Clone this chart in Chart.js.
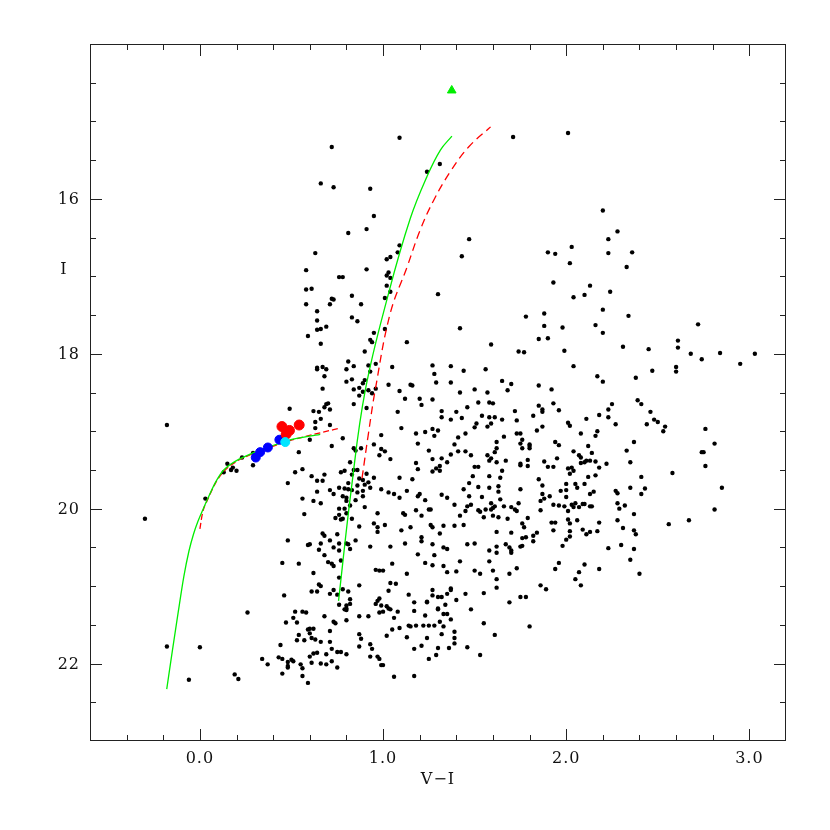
<!DOCTYPE html>
<html>
<head>
<meta charset="utf-8">
<script src="https://cdn.jsdelivr.net/npm/chart.js@4.4.1/dist/chart.umd.min.js"></script>
<style>
  body { margin: 0; background: #fff; }
  #wrap { width: 830px; height: 830px; }
</style>
</head>
<body>
<div id="wrap"><canvas id="chart" width="830" height="830"></canvas></div>
<script>
// field stars, [V-I, I]
const starsLeft = [
  [-0.18,18.92],[-0.30,20.13],[0.03,19.87],[0.13,19.53],[0.15,19.42],[0.17,19.50],[0.18,19.47],[0.20,19.51],[0.23,19.34],[0.29,19.44],
  [0.29,19.28],[0.26,21.34],[-0.18,21.78],[0.00,21.79],[-0.06,22.21],[0.19,22.14],[0.21,22.20],[0.34,21.94],[0.37,22.01],[0.43,21.92]
];
const starsUpper = [
  [1.09,15.21],[0.72,15.33],[0.66,15.80],[0.73,15.85],[0.93,15.87],[0.95,16.22],[0.81,16.44],[0.91,16.39],[0.63,16.70],[0.58,16.92],
  [0.91,16.91],[0.76,17.01],[0.78,17.01],[0.58,17.17],[0.61,17.16],[0.83,17.25],[0.72,17.29],[0.73,17.30],[0.58,17.36],[0.71,17.36],
  [0.88,17.36],[0.64,17.45],[0.83,17.53],[0.86,17.58],[0.64,17.57],[0.64,17.69],[0.66,17.68],[0.69,17.65],[0.59,17.77],[0.66,17.87],
  [1.09,16.60],[1.08,16.69],[1.02,16.78],[1.04,16.75],[1.03,16.95],[1.02,16.99],[1.04,17.02],[1.02,17.12],[1.04,17.20],[1.01,17.28],
  [1.01,17.68],[0.95,17.73],[0.93,17.82],[0.94,17.85],[0.90,17.97],[1.13,17.85],[0.81,18.10],[0.84,18.16],[0.80,18.20],[0.92,18.15],
  [0.96,18.13],[0.93,18.23],[1.05,18.17],[0.64,18.20],[0.64,18.18],[0.67,18.17],[0.69,18.20],[0.68,18.29],[0.67,18.45],[0.80,18.36],
  [0.83,18.33],[0.89,18.38],[0.90,18.34],[0.84,18.46],[0.87,18.44],[0.87,18.54],[0.89,18.49],[0.92,18.47],[0.94,18.51],[0.96,18.45],
  [1.03,18.40],[1.15,18.40],[1.16,18.41],[1.09,18.48],[1.12,18.58],[1.20,18.58]
];
const starsRGB = [
  [0.49,18.71],[0.62,18.74],[0.65,18.75],[0.68,18.69],[0.69,18.65],[0.70,18.64],[0.71,18.72],[0.84,18.65],[0.91,18.70],[1.08,18.75],
  [0.63,18.88],[0.66,18.84],[0.63,18.96],[0.71,18.92],[1.10,18.96],[1.18,19.03],[0.60,19.11],[0.78,19.09],[0.99,19.05],[0.72,19.19],
  [1.19,19.16],[0.54,19.27],[0.84,19.22],[0.85,19.25],[0.88,19.22],[0.95,19.17],[0.99,19.23],[1.01,19.26],[0.98,19.31],[1.04,19.36],
  [0.82,19.40],[1.18,19.41],[0.56,19.49],[0.52,19.53],[0.77,19.53],[0.79,19.51],[0.84,19.50],[0.86,19.50],[1.19,19.49],[0.68,19.56],
  [0.61,19.58],[0.83,19.56],[0.91,19.55],[0.48,19.67],[0.64,19.64],[0.67,19.64],[0.81,19.67],[0.87,19.61],[0.89,19.63],[0.92,19.66],
  [0.95,19.60],[1.09,19.60],[0.76,19.73],[0.79,19.74],[0.86,19.70],[0.90,19.69],[0.93,19.73],[0.71,19.76],[0.64,19.78],[0.73,19.81],
  [0.81,19.75],[0.83,19.76],[0.86,19.79],[0.89,19.77],[0.99,19.75],[1.03,19.79],[1.06,19.81],[1.13,19.77],[1.20,19.81],[0.78,19.84],
  [0.80,19.86],[0.85,19.89],[0.89,19.84],[1.09,19.86],[0.56,19.87],[0.62,19.90],[0.66,19.93],[0.80,19.90],[0.82,19.96],[0.90,19.98],
  [0.76,20.00],[0.79,20.00],[1.18,20.02],[0.57,20.07],[0.76,20.08],[0.80,20.06],[0.97,20.06],[1.11,20.06],[1.12,20.08],[0.74,20.12],
  [0.77,20.14],[0.78,20.13],[0.83,20.13],[0.95,20.19],[1.01,20.21],[0.87,20.23],[0.97,20.24],[0.97,20.30],[1.10,20.28],[1.15,20.24],
  [0.67,20.32],[0.68,20.35],[0.71,20.41],[0.75,20.33],[0.85,20.41],[0.48,20.41],[0.59,20.47],[0.60,20.46],[0.66,20.45],[0.76,20.45],
  [0.80,20.45],[0.81,20.46],[0.82,20.52],[0.93,20.49],[1.04,20.49],[1.12,20.45],[1.19,20.59],[0.65,20.53],[0.73,20.50],[0.76,20.54],
  [0.68,20.60],[0.70,20.69],[0.72,20.71],[0.73,20.74],[0.77,20.67],[0.45,20.70],[0.54,20.71],[1.05,20.71],[0.62,20.83],[0.96,20.79],
  [0.98,20.80],[1.00,20.80],[1.13,20.84],[0.76,20.89],[0.65,20.98],[0.66,21.00],[0.87,20.99],[1.04,20.96],[1.07,20.97],[0.46,21.12],
  [0.61,21.07],[0.64,21.07],[0.73,21.05],[0.78,21.04],[0.71,21.10],[0.75,21.11],[0.81,21.07],[1.03,21.06],[1.14,21.11],[0.76,21.24],
  [0.82,21.17],[0.80,21.25],[0.79,21.30],[0.80,21.29],[0.80,21.31],[0.82,21.23],[0.98,21.16],[0.97,21.19],[0.96,21.23],[0.99,21.25],
  [1.02,21.26],[1.03,21.29],[1.04,21.30],[0.98,21.34],[1.00,21.33],[1.08,21.33],[1.17,21.21],[1.17,21.32],[0.56,21.33],[0.58,21.34],
  [0.52,21.33],[0.51,21.41],[0.68,21.39],[0.73,21.46],[0.74,21.48],[0.80,21.44],[0.87,21.39],[0.92,21.39],[1.06,21.41],[0.47,21.47],
  [0.53,21.47],[0.59,21.56],[0.60,21.55],[0.62,21.55],[0.71,21.58],[1.05,21.56],[1.09,21.54],[1.14,21.51],[1.15,21.52],[1.18,21.51],
  [0.54,21.63],[0.60,21.61],[0.61,21.67],[0.63,21.69],[0.87,21.62],[0.88,21.68],[1.02,21.64],[1.13,21.66],[0.53,21.70],[0.57,21.70],
  [0.66,21.72],[0.71,21.72],[0.44,21.76],[0.62,21.87],[0.64,21.86],[0.69,21.88],[0.72,21.81],[0.75,21.85],[0.77,21.85],[0.80,21.88],
  [0.87,21.78],[0.93,21.75],[0.94,21.81],[1.17,21.81],[0.60,21.91],[0.93,21.91],[0.97,21.91],[0.98,21.94],[0.45,21.94],[0.48,21.98],
  [0.50,21.95],[0.51,21.97],[0.55,22.01],[0.56,22.06],[0.48,22.03],[0.48,22.05],[0.61,21.99],[0.66,22.00],[0.69,22.01],[0.72,21.97],
  [0.75,22.05],[0.99,22.02],[1.00,22.02],[0.45,22.13],[0.56,22.16],[0.59,22.25],[1.06,22.17],[1.17,22.16]
];
const starsMid = [
  [1.71,15.20],[1.24,15.65],[1.31,15.55],[1.47,16.52],[1.43,16.74],[1.30,17.23],[1.78,17.52],[1.42,17.67],[1.59,17.88],[1.74,17.97],
  [1.77,17.98],[1.27,18.15],[1.28,18.26],[1.37,18.16],[1.44,18.22],[1.56,18.20],[1.29,18.37],[1.37,18.37],[1.42,18.50],[1.50,18.46],
  [1.57,18.50],[1.65,18.35],[1.70,18.39],[1.68,18.47],
  [1.21,18.66],[1.27,18.59],[1.52,18.63],[1.58,18.63],[1.60,18.64],[1.46,18.69],[1.72,18.74],[1.32,18.74],[1.40,18.75],[1.32,18.82],
  [1.37,18.85],[1.43,18.83],[1.54,18.80],[1.58,18.82],[1.61,18.82],[1.65,18.85],[1.73,18.86],[1.51,18.90],[1.59,18.90],[1.57,18.94],
  [1.50,18.95],[1.23,19.01],[1.27,18.97],[1.30,18.99],[1.28,19.06],[1.45,19.03],[1.41,19.08],[1.66,19.07],[1.73,19.03],[1.75,19.03],
  [1.76,19.11],[1.62,19.14],[1.39,19.17],[1.62,19.22],[1.75,19.16],[1.76,19.22],[1.80,19.19],[1.80,19.17],[1.80,19.22],
  [1.25,19.25],[1.41,19.26],[1.45,19.26],[1.61,19.27],[1.37,19.30],[1.48,19.31],[1.57,19.31],[1.59,19.35],[1.58,19.38],[1.62,19.40],
  [1.67,19.38],[1.32,19.35],[1.35,19.40],[1.27,19.36],[1.31,19.45],[1.29,19.48],[1.27,19.52],[1.31,19.51],[1.50,19.46],[1.52,19.46],
  [1.65,19.51],[1.75,19.42],[1.75,19.44],[1.79,19.37],[1.79,19.45],[1.49,19.58],[1.58,19.58],[1.64,19.60],[1.16,19.62],[1.47,19.67],
  [1.44,19.75],[1.52,19.72],[1.58,19.73],[1.63,19.71],[1.63,19.78],[1.75,19.75],[1.19,19.84],[1.23,19.89],[1.32,19.82],[1.35,19.86],
  [1.47,19.84],[1.54,19.85],[1.64,19.88],[1.39,19.95],[1.46,19.97],[1.48,19.95],[1.59,19.93],[1.60,19.99],[1.59,20.01],[1.61,19.97],
  [1.66,19.97],[1.70,19.98],[1.72,20.01],[1.73,20.03],[1.74,19.93],[1.52,20.02],[1.53,20.04],[1.56,20.01],[1.45,20.03],[1.25,20.01],
  [1.26,20.01],[1.21,20.09],[1.42,20.09],[1.55,20.11],[1.60,20.09],[1.63,20.11],[1.68,20.13],[1.79,20.12],[1.26,20.21],[1.27,20.24],
  [1.33,20.22],[1.39,20.22],[1.44,20.21],[1.76,20.19],[1.77,20.24],[1.62,20.30],[1.70,20.31],[1.31,20.32],[1.21,20.37],[1.21,20.42],
  [1.76,20.38],[1.78,20.37],[1.82,20.35],[1.82,20.42],[1.84,20.31],[1.27,20.46],[1.33,20.50],[1.35,20.52],[1.46,20.46],[1.50,20.45],
  [1.62,20.49],[1.62,20.57],[1.58,20.54],[1.67,20.46],[1.69,20.50],[1.70,20.57],[1.70,20.54],[1.75,20.49],[1.76,20.48],[1.28,20.60],
  [1.23,20.70],[1.27,20.73],[1.33,20.74],[1.42,20.68],[1.35,20.82],[1.40,20.81],[1.50,20.80],[1.53,20.84],[1.58,20.68],[1.60,20.80],
  [1.69,20.84],[1.73,20.77],[1.62,20.91],[1.62,21.02],[1.27,21.05],[1.37,21.03],[1.37,21.05],[1.24,21.21],[1.24,21.20],[1.27,21.12],
  [1.30,21.14],[1.32,21.14],[1.35,21.10],[1.40,21.18],[1.45,21.10],[1.55,21.09],[1.69,21.21],[1.75,21.14],[1.78,21.14],[1.30,21.29],
  [1.30,21.30],[1.34,21.24],[1.48,21.30],[1.23,21.38],[1.33,21.36],[1.35,21.36],[1.37,21.43],[1.31,21.46],[1.33,21.52],[1.22,21.51],
  [1.25,21.51],[1.28,21.51],[1.39,21.59],[1.55,21.48],[1.80,21.52],[1.24,21.67],[1.32,21.62],[1.39,21.67],[1.39,21.74],[1.61,21.63],
  [1.21,21.77],[1.30,21.80],[1.36,21.80],[1.46,21.79],[1.25,21.94],[1.29,21.89],[1.53,21.89]
];
const starsRed = [
  [2.01,15.15],[2.20,16.15],[2.28,16.42],[2.23,16.52],[2.03,16.62],[1.90,16.69],[1.94,16.71],[2.23,16.70],[2.36,16.69],[2.02,16.83],
  [2.33,16.88],[1.93,17.08],[2.13,17.12],[2.04,17.27],[2.10,17.24],[2.24,17.20],[2.20,17.43],[1.88,17.48],[2.34,17.51],[1.88,17.64],
  [1.98,17.66],[2.16,17.63],[2.20,17.73],[1.85,17.81],[1.90,17.80],[2.31,17.91],[2.45,17.94],[1.99,17.96],[2.04,18.16],[2.17,18.29],
  [2.20,18.36],[2.38,18.31],[2.47,18.22],[1.85,18.41],[1.92,18.46],
  [1.85,18.67],[1.87,18.72],[1.87,18.75],[1.82,18.80],[1.93,18.64],[1.96,18.73],[2.01,18.89],[2.02,18.93],[2.11,18.84],[2.18,18.79],
  [2.23,18.72],[2.25,18.65],[2.23,18.82],[2.27,18.91],[2.39,18.60],[2.41,18.65],[2.46,18.75],[2.48,18.85],[2.50,18.88],[2.44,18.91],
  [1.84,18.99],[1.87,18.94],[2.08,19.03],[2.17,19.00],[2.16,19.06],[1.94,19.14],[1.96,19.18],[2.12,19.19],[2.04,19.26],[2.14,19.28],
  [2.07,19.31],[2.08,19.34],[2.37,19.14],[2.33,19.25],[1.95,19.35],[1.88,19.39],[1.90,19.46],[1.93,19.46],[2.08,19.41],[2.10,19.40],
  [2.11,19.38],[2.13,19.38],[2.16,19.39],[2.22,19.42],[2.35,19.40],[2.01,19.48],[2.03,19.47],[2.04,19.51],[2.18,19.47],[2.02,19.55],
  [2.16,19.57],[2.12,19.59],[2.41,19.59],[1.85,19.62],[1.87,19.70],[2.00,19.68],[2.05,19.68],[2.10,19.68],[2.06,19.73],[1.97,19.77],
  [2.00,19.76],[2.35,19.73],[2.43,19.74],[2.27,19.77],[2.28,19.80],[2.41,19.81],[2.13,19.81],[2.15,19.78],[1.87,19.81],[1.91,19.84],
  [2.00,19.85],[1.88,19.87],[1.86,19.90],[1.93,19.95],[1.96,19.96],[1.99,19.97],[2.03,19.95],[2.04,19.98],[2.05,19.93],[2.07,19.98],
  [2.09,19.94],[2.10,19.94],[2.13,19.97],[2.14,19.97],[2.28,19.93],[2.29,20.00],[2.32,19.96],[2.01,20.03],[1.86,20.02],[2.37,20.07],
  [2.01,20.14],[2.06,20.15],[2.28,20.15],[1.92,20.18],[1.94,20.18],[2.02,20.19],[2.18,20.18],[1.93,20.28],[2.02,20.29],[2.09,20.27],
  [2.13,20.30],[2.11,20.33],[2.17,20.29],[2.31,20.25],[2.37,20.28],[2.38,20.33],[2.02,20.36],[2.00,20.40],[1.98,20.48],[2.23,20.51],
  [2.30,20.47],[2.37,20.52],[2.35,20.66],[1.96,20.70],[1.94,20.78],[2.10,20.72],[2.07,20.82],[2.05,20.91],[2.08,20.99],[2.18,20.78],
  [2.40,20.84],[1.86,20.99],[1.89,21.04]
];
const starsFar = [
  [2.72,17.62],[2.61,17.83],[2.61,17.92],[2.68,18.00],[2.84,17.99],[3.03,18.00],[2.60,18.17],[2.60,18.23],[2.74,18.07],[2.95,18.13],
  [2.54,18.94],[2.53,19.00],[2.76,18.97],[2.81,19.16],[2.74,19.27],[2.75,19.27],[2.76,19.45],[2.58,19.54],[2.85,19.73],[2.81,20.01],
  [2.67,20.15],[2.56,20.20]
];

// model curves
const zahbVI   = [-0.181, -0.150, -0.118, -0.088, -0.060, -0.035, -0.010, 0.015, 0.045, 0.085, 0.130, 0.200, 0.290, 0.380, 0.480, 0.657];
const zahbI    = [22.33, 21.83, 21.33, 20.88, 20.55, 20.33, 20.16, 20.02, 19.86, 19.66, 19.50, 19.38, 19.28, 19.20, 19.12, 19.04];
const zahb2VI  = [0.000, 0.015, 0.045, 0.085, 0.130, 0.200, 0.290, 0.380, 0.480, 0.657, 0.766];
const zahb2I   = [20.26, 20.05, 19.87, 19.67, 19.52, 19.39, 19.29, 19.21, 19.13, 19.02, 18.96];
const isoVI    = [0.757, 0.826, 0.903, 1.030, 1.149, 1.240, 1.313, 1.376];
const isoI     = [21.19, 19.76, 18.47, 17.22, 16.25, 15.71, 15.37, 15.19];
const iso2VI   = [0.885, 0.919, 0.957, 1.039, 1.131, 1.203, 1.276, 1.367, 1.467, 1.587];
const iso2I    = [19.61, 19.05, 18.47, 17.48, 16.88, 16.40, 16.02, 15.65, 15.33, 15.07];

// highlighted stars
const redStars  = [[0.448,18.94],[0.489,18.99],[0.471,19.04],[0.542,18.92]];
const blueStars = [[0.305,19.34],[0.329,19.27],[0.371,19.21],[0.434,19.11]];
const cyanStars = [[0.466,19.14]];
const tipStar   = [[1.375,14.60]];

// axis ticks
const xTicks = [0, 1, 2, 3];
const xTickLabels = ['0.0', '1.0', '2.0', '3.0'];
const yTicks = [16, 18, 20, 22];
const yTickLabels = ['16', '18', '20', '22'];

const toXY = arr => arr.map(p => ({ x: p[0], y: p[1] }));
const zip = (xs, ys) => xs.map((v, i) => ({ x: v, y: ys[i] }));

const font = '16px "DejaVu Serif", serif';

const frame = {
  id: 'frame',
  afterDraw(chart) {
    const { ctx, chartArea: a, scales: { x, y } } = chart;
    ctx.save();
    ctx.strokeStyle = '#222';
    ctx.lineWidth = 1;
    ctx.strokeRect(a.left + 0.5, a.top + 0.5, a.right - a.left - 1, a.bottom - a.top - 1);

    ctx.beginPath();
    for (let i = -2; i <= 15; i++) {
      const v = i * 0.2;
      const px = Math.round(x.getPixelForValue(v)) + 0.5;
      const len = i % 5 === 0 ? 12 : 6;
      ctx.moveTo(px, a.bottom); ctx.lineTo(px, a.bottom - len);
      ctx.moveTo(px, a.top); ctx.lineTo(px, a.top + len);
    }
    for (let i = 29; i <= 45; i++) {
      const v = i * 0.5;
      const py = Math.round(y.getPixelForValue(v)) + 0.5;
      const len = i % 4 === 0 ? 12 : 6;
      ctx.moveTo(a.left, py); ctx.lineTo(a.left + len, py);
      ctx.moveTo(a.right, py); ctx.lineTo(a.right - len, py);
    }
    ctx.stroke();

    ctx.fillStyle = '#111';
    ctx.font = font;
    ctx.letterSpacing = '1px';
    ctx.textAlign = 'center';
    ctx.textBaseline = 'middle';
    xTicks.forEach((v, i) => ctx.fillText(xTickLabels[i], x.getPixelForValue(v), a.bottom + 18));
    ctx.fillText('V\u2212I', (a.left + a.right) / 2, a.bottom + 39);
    ctx.textAlign = 'right';
    yTicks.forEach((v, i) => ctx.fillText(yTickLabels[i], a.left - 10, y.getPixelForValue(v) + 1));
    ctx.textAlign = 'center';
    ctx.fillText('I', a.left - 26, y.getPixelForValue(16.92));
    ctx.restore();
  }
};

const ctx = document.getElementById('chart').getContext('2d');
const field = [].concat(starsLeft, starsUpper, starsRGB, starsMid, starsRed, starsFar);

new Chart(ctx, {
  type: 'scatter',
  data: {
    datasets: [
      { data: toXY(tipStar), pointStyle: 'triangle', pointRadius: 5, backgroundColor: '#00ee00', borderColor: '#00ee00', order: 0 },
      { data: toXY(redStars), pointRadius: 5, backgroundColor: '#ff0000', borderColor: '#ff0000', order: 1 },
      { data: toXY(blueStars), pointRadius: 4.5, backgroundColor: '#0000ff', borderColor: '#0000ff', order: 1 },
      { data: toXY(cyanStars), pointRadius: 4.5, backgroundColor: '#00e5ff', borderColor: '#00e5ff', order: 0 },
      { data: zip(zahbVI, zahbI), showLine: true, pointRadius: 0, borderColor: '#00ee00', borderWidth: 1.3, cubicInterpolationMode: 'monotone', order: 2 },
      { data: zip(zahb2VI, zahb2I), showLine: true, pointRadius: 0, borderColor: '#ff0000', borderWidth: 1.3, borderDash: [6, 3], cubicInterpolationMode: 'monotone', order: 3 },
      { data: zip(isoVI, isoI), showLine: true, pointRadius: 0, borderColor: '#00ee00', borderWidth: 1.3, tension: 0.4, order: 2 },
      { data: zip(iso2VI, iso2I), showLine: true, pointRadius: 0, borderColor: '#ff0000', borderWidth: 1.3, borderDash: [8, 5], tension: 0.4, order: 3 },
      { data: toXY(field), pointRadius: 2.2, backgroundColor: '#000', borderColor: '#000', borderWidth: 0, order: 5 }
    ]
  },
  options: {
    responsive: false,
    animation: false,
    layout: { padding: { left: 90, top: 44, right: 44, bottom: 89 } },
    scales: {
      x: { type: 'linear', min: -0.6, max: 3.2, display: false },
      y: { type: 'linear', min: 14, max: 23, reverse: true, display: false }
    },
    plugins: { legend: { display: false }, tooltip: { enabled: false } }
  },
  plugins: [frame]
});
</script>
</body>
</html>
